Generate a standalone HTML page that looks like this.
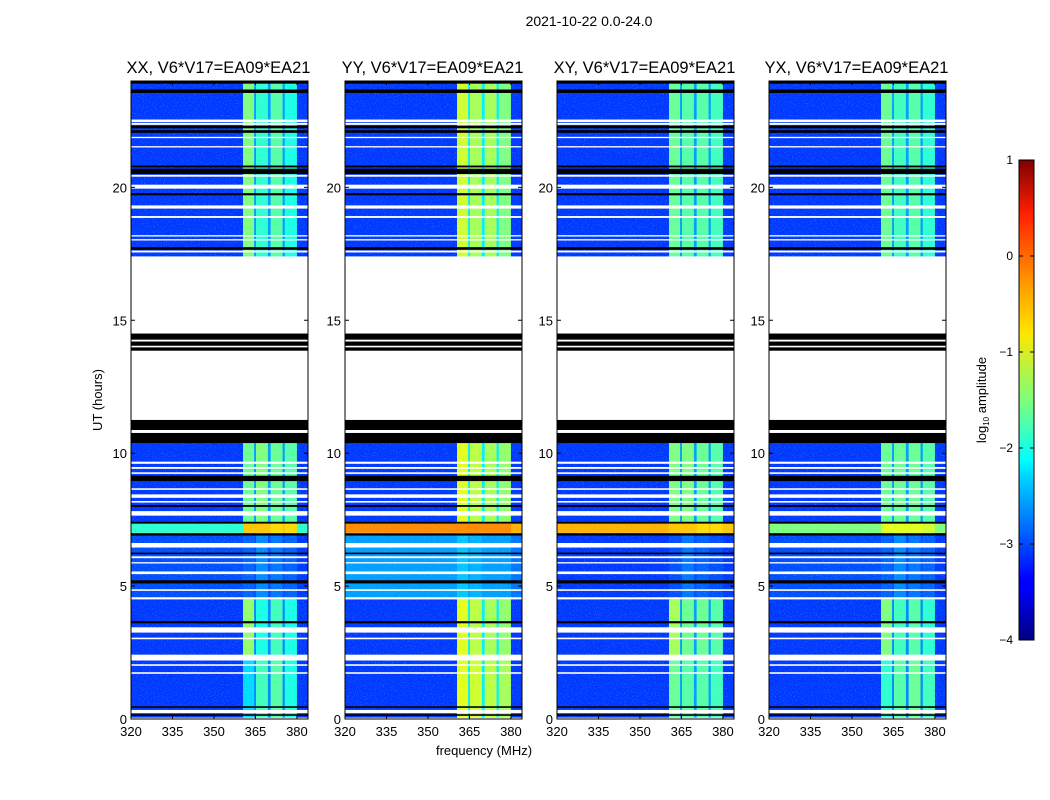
<!DOCTYPE html>
<html><head><meta charset="utf-8"><style>
body{margin:0;background:#fff;}
svg{display:block;font-family:"Liberation Sans",sans-serif;}
</style></head><body>
<svg id="chart" width="1050" height="800" xmlns="http://www.w3.org/2000/svg">
<defs>
<filter id="noise" x="0" y="0" width="100%" height="100%">
<feTurbulence type="fractalNoise" baseFrequency="0.9" numOctaves="1" seed="3"/>
<feColorMatrix type="matrix" values="0 0 0 0 0.3  0 0 0 0 1  0 0 0 0 1  0 0 0 2.4 -1.3"/>
</filter>
<linearGradient id="jet" x1="0" y1="1" x2="0" y2="0">
<stop offset="0" stop-color="#00007f"/><stop offset="0.11" stop-color="#0000ff"/>
<stop offset="0.125" stop-color="#0000ff"/><stop offset="0.34" stop-color="#00d4ff"/>
<stop offset="0.375" stop-color="#00ffff"/><stop offset="0.5" stop-color="#7dff7a"/>
<stop offset="0.64" stop-color="#ffe600"/><stop offset="0.75" stop-color="#ff9400"/>
<stop offset="0.89" stop-color="#ff1e00"/><stop offset="1" stop-color="#7f0000"/>
</linearGradient>
</defs>
<text x="589" y="26" font-size="14" text-anchor="middle">2021-10-22 0.0-24.0</text>
<text x="484" y="755" font-size="13" text-anchor="middle">frequency (MHz)</text>
<text transform="translate(102,400) rotate(-90)" font-size="13" text-anchor="middle">UT (hours)</text>
<g id="panels"></g>
<g>
<rect x="1019" y="160" width="15" height="480" fill="url(#jet)" stroke="#000" stroke-width="1"/>
<g id="cbticks"></g>
<text transform="translate(986,400) rotate(-90)" font-size="13" text-anchor="middle">log<tspan font-size="8" dy="3">10</tspan><tspan dy="-3"> amplitude</tspan></text>
</g>
</svg>
<script>
const panelTitles = ["XX, V6*V17=EA09*EA21","YY, V6*V17=EA09*EA21","XY, V6*V17=EA09*EA21","YX, V6*V17=EA09*EA21"];
const freqBands = [[320,360.5],[360.5,364.5],[364.5,365.2],[365.2,369.5],[369.5,370.5],[370.5,374.8],[374.8,375.6],[375.6,380],[380,384]];
const timeRegions = [[0,2.3],[2.3,4.5],[4.5,7.0],[7.0,7.35],[7.35,10.4],[17.4,24]];
const levelsXX = [
 [-3.1,-2.3,-2.7,-1.8,-2.7,-1.7,-2.7,-2.0,-3.1],
 [-3.1,-1.4,-2.7,-2.0,-2.7,-1.8,-2.7,-2.0,-3.1],
 [-3.0,-2.9,-3,-2.7,-3,-2.8,-3,-2.9,-3.1],
 [-1.9,-0.6,-0.6,-0.6,-0.6,-0.7,-0.6,-0.7,-1.9],
 [-3.1,-1.6,-2.6,-1.5,-2.6,-1.6,-2.6,-1.7,-3.1],
 [-3.1,-1.5,-2.6,-1.9,-2.6,-1.7,-2.6,-2.0,-3.1]];
const levelsYY = [
 [-3.1,-1.0,-2.2,-1.1,-2.2,-1.2,-2.2,-1.3,-3.1],
 [-3.1,-1.0,-2.2,-1.2,-2.2,-1.3,-2.2,-1.4,-3.1],
 [-2.6,-2.4,-2.6,-2.5,-2.6,-2.6,-2.6,-2.6,-2.8],
 [-0.3,-0.3,-0.3,-0.3,-0.3,-0.3,-0.3,-0.3,-0.5],
 [-3.1,-1.0,-2.2,-1.2,-2.2,-1.3,-2.2,-1.4,-3.1],
 [-3.1,-1.1,-2.2,-1.3,-2.2,-1.3,-2.2,-1.5,-3.1]];
const levelsXY = [
 [-3.1,-1.6,-2.6,-1.7,-2.6,-1.7,-2.6,-1.8,-3.1],
 [-3.1,-1.3,-2.6,-1.6,-2.6,-1.6,-2.6,-1.7,-3.1],
 [-3.1,-3,-3,-2.8,-3,-2.9,-3,-3,-3.1],
 [-0.5,-0.6,-0.6,-0.6,-0.6,-0.7,-0.6,-0.7,-0.6],
 [-3.1,-1.5,-2.6,-1.5,-2.6,-1.6,-2.6,-1.7,-3.1],
 [-3.1,-1.6,-2.6,-1.7,-2.6,-1.7,-2.6,-1.8,-3.1]];
const levelsYX = [
 [-3.1,-1.9,-2.7,-1.7,-2.7,-1.6,-2.7,-1.8,-3.1],
 [-3.1,-1.5,-2.7,-1.8,-2.7,-1.7,-2.7,-1.9,-3.1],
 [-3.0,-2.9,-3,-2.7,-3,-2.8,-3,-2.9,-3.1],
 [-1.5,-1.0,-1.0,-1.0,-1.0,-1.0,-1.0,-1.1,-1.5],
 [-3.1,-1.6,-2.6,-1.6,-2.6,-1.6,-2.6,-1.7,-3.1],
 [-3.1,-1.6,-2.6,-1.8,-2.6,-1.7,-2.6,-1.9,-3.1]];
const panelLevels = [levelsXX, levelsYY, levelsXY, levelsYX];
// flagged rows: [startHour, endHour, type] type w=white, b=black
const flags = [
 [23.90,24,"b"],[23.55,23.68,"b"],[22.45,22.55,"w"],[22.35,22.42,"w"],[22.22,22.32,"b"],[22.05,22.15,"b"],
 [21.85,21.9,"w"],[21.5,21.55,"w"],[20.75,20.82,"b"],[20.5,20.7,"b"],[20.4,20.47,"w"],[19.95,20.1,"w"],
 [19.7,19.78,"b"],[19.2,19.32,"w"],[18.85,18.92,"w"],[18.15,18.2,"w"],[18.0,18.05,"w"],[17.65,17.75,"b"],
 [17.55,17.62,"w"],[14.7,17.4,"w"],[14.5,14.6,"w"],[13.85,14.5,"b"],[14.2,14.27,"w"],[13.98,14.04,"w"],
 [11.25,13.85,"w"],[10.87,11.25,"b"],[10.76,10.87,"w"],[10.38,10.76,"b"],
 [9.6,9.68,"w"],[9.41,9.48,"w"],[9.22,9.28,"w"],[8.95,9.15,"b"],[8.62,8.68,"w"],[8.32,8.45,"w"],
 [8.14,8.2,"w"],[7.98,8.05,"b"],[7.65,7.82,"w"],[7.35,7.42,"b"],[6.9,6.98,"b"],[6.45,6.62,"w"],
 [6.2,6.26,"b"],[6.05,6.12,"w"],[5.85,5.9,"w"],[5.45,5.55,"w"],[5.1,5.22,"b"],[4.82,4.88,"w"],
 [4.5,4.58,"w"],[3.6,3.68,"b"],[3.25,3.45,"w"],[3.0,3.06,"w"],[2.2,2.42,"w"],[2.0,2.06,"w"],
 [1.7,1.76,"w"],[0.42,0.48,"b"],[0.22,0.34,"w"],[0.12,0.18,"b"],[0,0.05,"w"]];
const xTicks = [320,335,350,365,380];
const yTicks = [0,5,10,15,20];
const cbTicks = [-4,-3,-2,-1,0,1];

const panelX0 = [131,345,557,769], PW = 177, PY0 = 81, PY1 = 719;
const fx = (f, p) => panelX0[p] + (f - 320) * (PW / 64);
const hy = h => PY1 - h * (PY1 - PY0) / 24;
function jet(v){
  const t = Math.max(0, Math.min(1, (v + 4) / 5));
  const c = x => Math.round(255 * Math.max(0, Math.min(1, 1.5 - Math.abs(4 * t - x))));
  return `rgb(${c(3)},${c(2)},${c(1)})`;
}
const NS = "http://www.w3.org/2000/svg";
function mk(tag, attrs, parent){
  const e = document.createElementNS(NS, tag);
  for (const k in attrs) e.setAttribute(k, attrs[k]);
  parent.appendChild(e); return e;
}
const root = document.getElementById("panels");
for (let p = 0; p < 4; p++) {
  const g = mk("g", {}, root);
  
  
  const x0 = panelX0[p];
  mk("rect", {x:x0, y:PY0, width:PW, height:PY1-PY0, fill:"#fff"}, g);
  timeRegions.forEach((tr, ri) => {
    freqBands.forEach((fb, bi) => {
      const r = mk("rect", {x:fx(fb[0],p), y:hy(tr[1]), width:fx(fb[1],p)-fx(fb[0],p)+0.3, height:hy(tr[0])-hy(tr[1]), fill:jet(panelLevels[p][ri][bi])}, g);
      
      
    });
  });
  mk("rect", {x:x0, y:PY0, width:PW, height:PY1-PY0, filter:"url(#noise)", opacity:0.45}, g);
  flags.forEach(f => {
    const r = mk("rect", {x:x0, y:hy(f[1]), width:PW, height:Math.max(1, hy(f[0])-hy(f[1])), fill:f[2]==="w"?"#fff":"#000"}, g);
    
    
  });
  mk("rect", {x:x0, y:PY0, width:PW, height:PY1-PY0, fill:"none", stroke:"#000", "stroke-width":1}, g);
  const t = mk("text", {x:x0+PW/2 - 1, y:73, "font-size":16.5, "text-anchor":"middle"}, g);
  t.textContent = panelTitles[p];
  
  
  xTicks.forEach(v => {
    const x = fx(v, p);
    mk("line", {x1:x, x2:x, y1:PY1, y2:PY1-4, stroke:"#000"}, g);
    mk("line", {x1:x, x2:x, y1:PY0, y2:PY0+4, stroke:"#000"}, g);
    const l = mk("text", {x:x, y:736, "font-size":13, "text-anchor":"middle"}, g);
    l.textContent = v;
    
    
  });
  yTicks.forEach(v => {
    const y = hy(v);
    mk("line", {x1:x0, x2:x0+4, y1:y, y2:y, stroke:"#000"}, g);
    mk("line", {x1:x0+PW, x2:x0+PW-4, y1:y, y2:y, stroke:"#000"}, g);
    const l = mk("text", {x:x0-4, y:y+5, "font-size":13, "text-anchor":"end"}, g);
    l.textContent = v;
    
    
  });
}
const cbg = document.getElementById("cbticks");
cbTicks.forEach(v => {
  const y = 640 - (v + 4) / 5 * 480;
  mk("line", {x1:1019, x2:1023, y1:y, y2:y, stroke:"#000"}, cbg);
  mk("line", {x1:1030, x2:1034, y1:y, y2:y, stroke:"#000"}, cbg);
  const l = mk("text", {x:1013, y:y+4, "font-size":12, "text-anchor":"end"}, cbg);
  l.textContent = v < 0 ? "\u2212" + (-v) : v;
  
  
});
</script>
</body></html>
